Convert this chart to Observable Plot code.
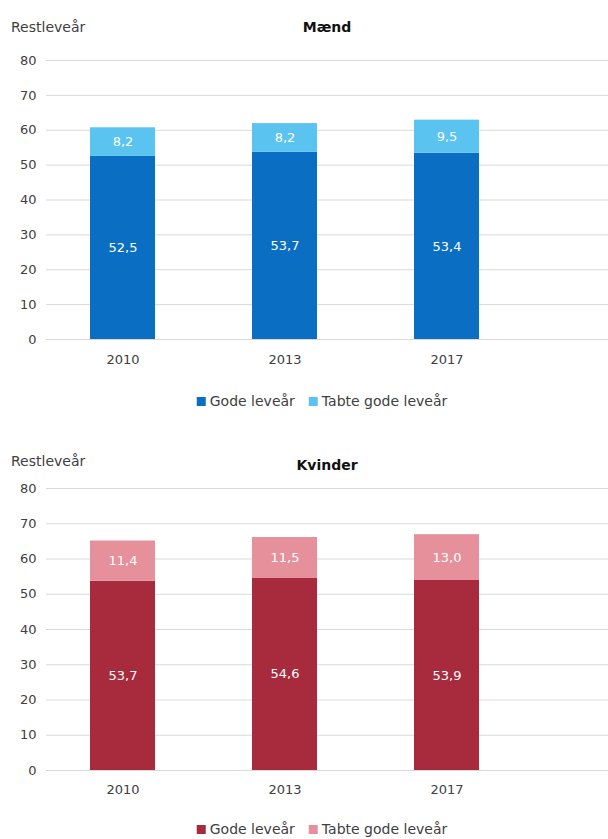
<!DOCTYPE html>
<html>
<head>
<meta charset="utf-8">
<script src="https://cdn.jsdelivr.net/npm/d3@7"></script>
<script src="https://cdn.jsdelivr.net/npm/@observablehq/plot@0.6"></script>
<style>
  html, body { margin: 0; padding: 0; background: white; }
  #root { position: relative; width: 608px; height: 839px; overflow: hidden; font-family: "DejaVu Sans", sans-serif; color: #404040; }
  .abs { position: absolute; }
  .ylab { font-size: 14px; left: 11px; line-height: 16px; }
  .title { font-size: 14px; font-weight: bold; color: #111; line-height: 16px; transform: translateX(-50%); white-space: nowrap; }
  .legend { font-size: 14px; line-height: 16px; transform: translateX(-50%); white-space: nowrap; display: flex; gap: 14px; align-items: center; }
  .legend span.sw { display: inline-block; width: 9px; height: 9px; margin-right: 4px; }
  .legend .item { display: flex; align-items: center; }
</style>
</head>
<body>
<div id="root"></div>
<script>
const years = ["2010", "2013", "2017"];
const seriesNames = ["Gode leveår", "Tabte gode leveår"];
const maendGode = [52.5, 53.7, 53.4];
const maendTabte = [8.2, 8.2, 9.5];
const kvinderGode = [53.7, 54.6, 53.9];
const kvinderTabte = [11.4, 11.5, 13.0];
const yTicks = [0, 10, 20, 30, 40, 50, 60, 70, 80];
const maendColors = ["#0a6fc2", "#5ac3f0"];
const kvinderColors = ["#a82b3d", "#e6909c"];
const yLabel = "Restleveår";

const fmt = v => d3.format(".1f")(v).replace(".", ",");

function rowsOf(gode, tabte) {
  const rows = [];
  years.forEach((y, i) => {
    rows.push({year: y, series: seriesNames[0], value: gode[i]});
    rows.push({year: y, series: seriesNames[1], value: tabte[i]});
  });
  return rows;
}

function panel(gode, tabte, colors, height, marginTop, marginBottom, tickPad) {
  const rows = rowsOf(gode, tabte);
  return Plot.plot({
    width: 608,
    height,
    marginLeft: 46,
    marginRight: 0,
    marginTop,
    marginBottom,
    style: {fontFamily: "DejaVu Sans", fontSize: "13px", color: "#404040", background: "white", overflow: "visible"},
    x: {domain: years, range: [41, 527], paddingInner: 0.6, paddingOuter: 0.3, label: null, tickSize: 0, tickPadding: tickPad},
    y: {domain: [0, 80], ticks: yTicks, tickSize: 0, tickPadding: 10, label: null},
    color: {domain: seriesNames, range: colors},
    marks: [
      Plot.gridY(yTicks, {stroke: "#d9d9d9", strokeOpacity: 1}),
      Plot.barY(rows, {x: "year", y: "value", fill: "series", z: "series", order: seriesNames}),
      Plot.text(rows, Plot.stackY({x: "year", y: "value", z: "series", order: seriesNames, text: d => fmt(d.value), fill: "white", fontSize: 13}))
    ]
  });
}

function legend(colors) {
  const div = document.createElement("div");
  div.className = "abs legend";
  seriesNames.forEach((s, i) => {
    const item = document.createElement("div");
    item.className = "item";
    const sw = document.createElement("span");
    sw.className = "sw";
    sw.style.background = colors[i];
    item.appendChild(sw);
    item.appendChild(document.createTextNode(s));
    div.appendChild(item);
  });
  return div;
}

const root = document.getElementById("root");

function addPanel(title, gode, tabte, colors, top, height, marginTop, marginBottom, tickPad, labelY, titleY, legendY) {
  const svg = panel(gode, tabte, colors, height, marginTop, marginBottom, tickPad);
  svg.classList.add("abs");
  svg.style.left = "0px";
  svg.style.top = top + "px";
  root.appendChild(svg);

  const yl = document.createElement("div");
  yl.className = "abs ylab";
  yl.style.top = labelY + "px";
  yl.textContent = yLabel;
  root.appendChild(yl);

  const t = document.createElement("div");
  t.className = "abs title";
  t.style.left = "327px";
  t.style.top = titleY + "px";
  t.textContent = title;
  root.appendChild(t);

  const lg = legend(colors);
  lg.style.left = "322px";
  lg.style.top = legendY + "px";
  root.appendChild(lg);
}

addPanel("Mænd", maendGode, maendTabte, maendColors, 0, 375, 60, 36, 15, 19, 19, 393);
addPanel("Kvinder", kvinderGode, kvinderTabte, kvinderColors, 420, 385, 68, 35, 14, 453, 457, 821);
</script>
</body>
</html>
